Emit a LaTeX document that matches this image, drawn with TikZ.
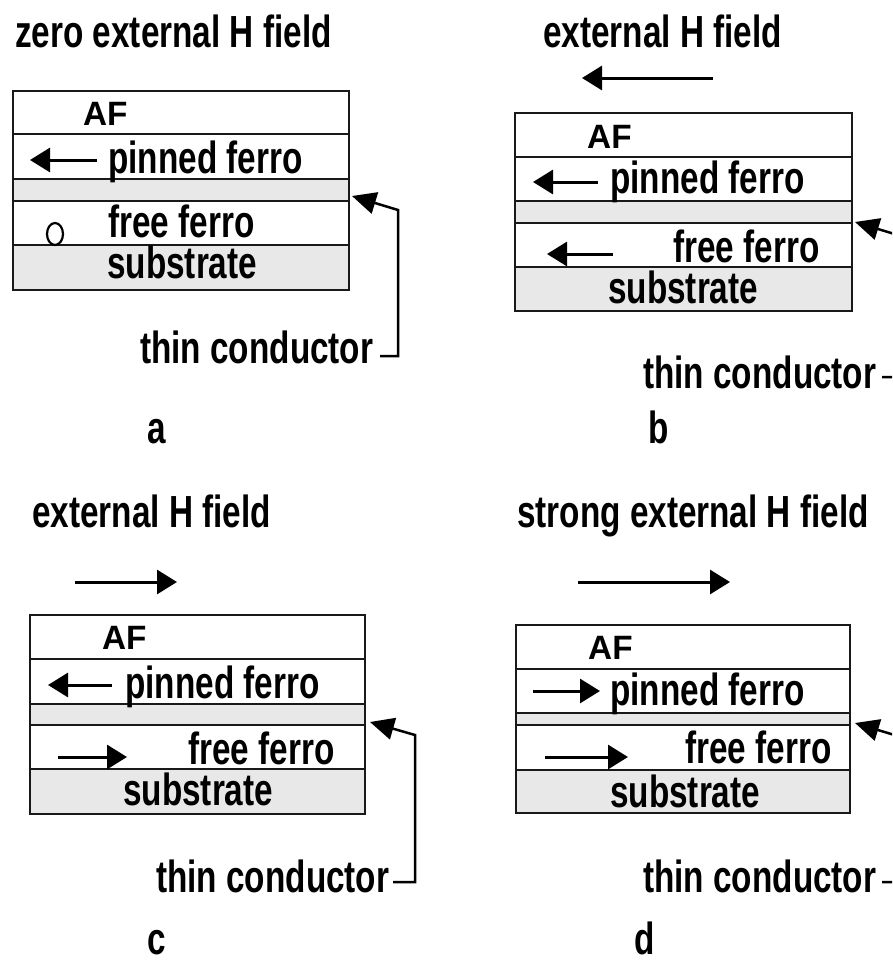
\documentclass[tikz,border=0pt]{standalone}
\usepackage{fontspec}
\setmainfont{Liberation Sans}[FakeStretch=0.74]
\usetikzlibrary{arrows.meta}
\newcommand\layerstack[8]{%
  \fill[layerfill] (#1,#5) rectangle (#2,#6);
  \fill[layerfill] (#1,#7) rectangle (#2,#8);
  \draw[boxline] (#1,#3) rectangle (#2,#8);
  \foreach \yy in {#4,#5,#6,#7} \draw[boxline] (#1,\yy) -- (#2,\yy);
}
\tikzset{
  layerfill/.style={fill=black!9},
  boxline/.style={line width=2.8pt, black!90},
  lbl/.style={anchor=base west, inner sep=0pt, font=\bfseries\fontsize{45}{50}\selectfont},
  aflbl/.style={anchor=base west, inner sep=0pt, font=\bfseries\fontsize{45}{50}\selectfont},
  harrow/.style={line width=3pt, -{Triangle[length=20pt,width=24pt]}},
  conn/.style={line width=2.5pt, {Triangle[length=24pt,width=22pt]}-},
}
\begin{document}
\begin{tikzpicture}[x=1pt,y=-1pt]
\useasboundingbox (0,0) rectangle (892,961);
\clip (0,0) rectangle (892,961);
\fill[white] (0,0) rectangle (892,961);

% ---------------- panel a ----------------
\node[lbl] (ta) at (15,47) {zero external H field};
\layerstack{13}{349}{91}{134}{179}{201}{245}{290}
\node[aflbl] (afa) at (83,125) {\scalebox{1}[0.75]{AF}};
\coordinate (pa1) at (97,160); \coordinate (pa2) at (30,160);
\draw[harrow] (pa1) -- (pa2);
\node[lbl] (pina) at (108,173) {pinned ferro};
\draw[line width=2.2pt] (55,234) ellipse [x radius=8pt, y radius=11pt];
\node[lbl] (frea) at (108,237) {free ferro};
\node[lbl] (suba) at (107,278) {substrate};
\node[lbl] (tca) at (140,363) {thin conductor};
\coordinate (ca0) at (352,196); \coordinate (ca1) at (398,210);
\coordinate (ca2) at (398,356); \coordinate (ca3) at (380,356);
\draw[conn] (ca0) -- (ca1) -- (ca2) -- (ca3);
\node[lbl] (la) at (147,443) {a};

% ---------------- panel b ----------------
\node[lbl] (tb) at (543,47) {external H field};
\coordinate (fb1) at (713,78); \coordinate (fb2) at (582,78);
\draw[harrow] (fb1) -- (fb2);
\layerstack{515}{852}{113}{157}{201}{223}{267}{311}
\node[aflbl] (afb) at (587,148) {\scalebox{1}[0.75]{AF}};
\coordinate (pb1) at (598,182); \coordinate (pb2) at (533,182);
\draw[harrow] (pb1) -- (pb2);
\node[lbl] (pinb) at (610,193) {pinned ferro};
\coordinate (qb1) at (613,254); \coordinate (qb2) at (547,254);
\draw[harrow] (qb1) -- (qb2);
\node[lbl] (freb) at (673,262) {free ferro};
\node[lbl] (subb) at (608,303) {substrate};
\node[lbl] (tcb) at (643,388) {thin conductor};
\coordinate (cb0) at (855,222); \coordinate (cb1) at (901,236);
\coordinate (cb2) at (901,377); \coordinate (cb3) at (882,377);
\draw[conn] (cb0) -- (cb1) -- (cb2) -- (cb3);
\node[lbl] (lb) at (648,443) {b};

% ---------------- panel c ----------------
\node[lbl] (tc) at (32,527) {external H field};
\coordinate (fc1) at (75,582); \coordinate (fc2) at (177,582);
\draw[harrow] (fc1) -- (fc2);
\layerstack{30}{365}{615}{659}{704}{725}{769}{814}
\node[aflbl] (afc) at (102,649) {\scalebox{1}[0.75]{AF}};
\coordinate (pc1) at (112,685); \coordinate (pc2) at (48,685);
\draw[harrow] (pc1) -- (pc2);
\node[lbl] (pinc) at (125,698) {pinned ferro};
\coordinate (qc1) at (58,757); \coordinate (qc2) at (127,757);
\draw[harrow] (qc1) -- (qc2);
\node[lbl] (frec) at (188,764) {free ferro};
\node[lbl] (subc) at (123,805) {substrate};
\node[lbl] (tcc) at (156,892) {thin conductor};
\coordinate (cc0) at (370,722); \coordinate (cc1) at (415,735);
\coordinate (cc2) at (415,882); \coordinate (cc3) at (393,882);
\draw[conn] (cc0) -- (cc1) -- (cc2) -- (cc3);
\node[lbl] (lc) at (147,954) {c};

% ---------------- panel d ----------------
\node[lbl] (td) at (517,527) {strong external H field};
\coordinate (fd1) at (578,582); \coordinate (fd2) at (730,582);
\draw[harrow] (fd1) -- (fd2);
\layerstack{516}{850}{625}{669}{713}{725}{770}{813}
\node[aflbl] (afd) at (588,659) {\scalebox{1}[0.75]{AF}};
\coordinate (pd1) at (533,691); \coordinate (pd2) at (600,691);
\draw[harrow] (pd1) -- (pd2);
\node[lbl] (pind) at (610,705) {pinned ferro};
\coordinate (qd1) at (545,757); \coordinate (qd2) at (628,757);
\draw[harrow] (qd1) -- (qd2);
\node[lbl] (fred) at (685,763) {free ferro};
\node[lbl] (subd) at (610,807) {substrate};
\node[lbl] (tcd) at (643,892) {thin conductor};
\coordinate (cd0) at (855,723); \coordinate (cd1) at (901,737);
\coordinate (cd2) at (901,882); \coordinate (cd3) at (882,882);
\draw[conn] (cd0) -- (cd1) -- (cd2) -- (cd3);
\node[lbl] (ld) at (634,954) {d};
\end{tikzpicture}
\end{document}
